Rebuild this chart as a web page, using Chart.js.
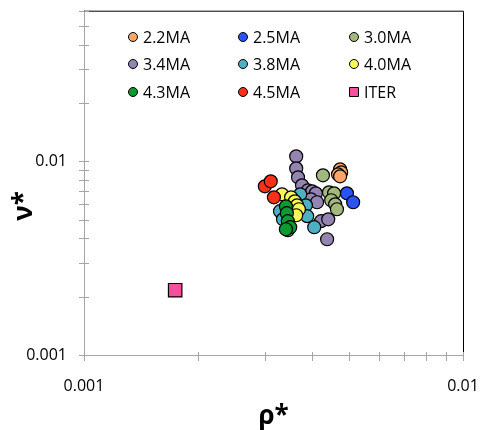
<!DOCTYPE html>
<html>
<head>
  <title>rho* vs nu*</title>
  <script src="https://cdn.jsdelivr.net/npm/chart.js"></script>
  <style>
    body { margin: 0; background: #fff; }
    canvas { display: block; }
  </style>
</head>
<body>
  <canvas id="chartRhoNu" width="486" height="430"></canvas>
  <script>
    // values (rho*, nu*)
    const seriesNames = ['2.2MA', '2.5MA', '3.0MA', '3.4MA', '3.8MA', '4.0MA', '4.3MA', '4.5MA', 'ITER'];

    const rho22 = [0.00474, 0.00477, 0.00468, 0.00474];
    const nu22  = [0.00909, 0.00877, 0.00857, 0.00837];
    const rho25 = [0.00494, 0.00513];
    const nu25  = [0.00684, 0.00615];
    const rho30 = [0.00427, 0.00443, 0.00457, 0.00449, 0.00460, 0.00465];
    const nu30  = [0.00847, 0.00692, 0.00684, 0.00630, 0.00600, 0.00566];
    const rho34 = [0.00363, 0.00363, 0.00367, 0.00376, 0.00390, 0.00400, 0.00409, 0.00397, 0.00412, 0.00422, 0.00441, 0.00438];
    const nu34  = [0.01061, 0.00920, 0.00827, 0.00752, 0.00709, 0.00700, 0.00684, 0.00637, 0.00615, 0.00491, 0.00502, 0.00396];
    const rho38 = [0.00329, 0.00335, 0.00345, 0.00372, 0.00385, 0.00388, 0.00405];
    const nu38  = [0.00553, 0.00502, 0.00441, 0.00676, 0.00593, 0.00521, 0.00457];
    const rho40 = [0.00333, 0.00352, 0.00360, 0.00365, 0.00369, 0.00363];
    const nu40  = [0.00676, 0.00652, 0.00622, 0.00593, 0.00566, 0.00527];
    const rho43 = [0.00341, 0.00343, 0.00345, 0.00350, 0.00341];
    const nu43  = [0.00586, 0.00540, 0.00491, 0.00457, 0.00446];
    const rho45 = [0.00300, 0.00311, 0.00317];
    const nu45  = [0.00743, 0.00789, 0.00652];
    const rhoIter = [0.00174];
    const nuIter  = [0.00216];

    const xTickLabels = ['0.001', '0.01'];
    const yTickLabels = ['0.001', '0.01'];

    const seriesRho = [rho22, rho25, rho30, rho34, rho38, rho40, rho43, rho45, rhoIter];
    const seriesNu  = [nu22, nu25, nu30, nu34, nu38, nu40, nu43, nu45, nuIter];
    const seriesColors = ['#f8a66c', '#2b52f5', '#a2b87c', '#9484b2', '#4fb0c4', '#f7f75a', '#0e9a30', '#f8301a', '#f4509c'];

    const FONT = '"Open Sans", "Liberation Sans", sans-serif';
    const AXIS_GRAY = '#a6a6a6';

    function tickLabel(list) {
      return function (value) {
        const s = String(value);
        return list.includes(s) ? s : '';
      };
    }

    // 1..9 ticks in every decade, like the original log axis
    function decadeTicks(scale) {
      const ticks = [];
      for (let e = Math.floor(Math.log10(scale.min)); e <= Math.ceil(Math.log10(scale.max)); e++) {
        for (let m = 1; m <= 9; m++) {
          const v = +(m * Math.pow(10, e)).toPrecision(6);
          if (v >= scale.min - 1e-12 && v <= scale.max + 1e-12) ticks.push({ value: v });
        }
      }
      scale.ticks = ticks;
    }

    // frame on top/right, tick marks crossing the axes, y title, legend grid
    const decor = {
      id: 'decor',
      afterDraw(chart) {
        const { ctx, chartArea: a, scales: { x, y } } = chart;
        ctx.save();
        ctx.lineWidth = 1;
        ctx.strokeStyle = '#000';
        ctx.beginPath();
        ctx.moveTo(a.left, a.top + 0.5);
        ctx.lineTo(a.right + 0.5, a.top + 0.5);
        ctx.lineTo(a.right + 0.5, a.bottom);
        ctx.stroke();

        ctx.strokeStyle = AXIS_GRAY;
        ctx.beginPath();
        x.ticks.forEach(t => {
          const px = Math.round(x.getPixelForValue(t.value)) + 0.5;
          ctx.moveTo(px, a.bottom - 3);
          ctx.lineTo(px, a.bottom + 6);
        });
        y.ticks.forEach(t => {
          const py = Math.round(y.getPixelForValue(t.value)) + 0.5;
          ctx.moveTo(a.left - 5, py);
          ctx.lineTo(a.left + 5, py);
        });
        ctx.stroke();

        ctx.save();
        ctx.translate(25, 206);
        ctx.rotate(-Math.PI / 2);
        ctx.font = 'bold 26px ' + FONT;
        ctx.fillStyle = '#000';
        ctx.textAlign = 'center';
        ctx.textBaseline = 'middle';
        ctx.fillText('ν*', 0, 0);
        ctx.restore();

        const colX = [133, 243, 354];
        const rowY = [37, 64, 92];
        ctx.font = '16px ' + FONT;
        ctx.textAlign = 'left';
        ctx.textBaseline = 'middle';
        chart.data.datasets.forEach((ds, i) => {
          const cx = colX[i % 3], cy = rowY[Math.floor(i / 3)];
          ctx.fillStyle = ds.backgroundColor;
          ctx.strokeStyle = '#000';
          ctx.beginPath();
          if (ds.pointStyle === 'rect') {
            ctx.rect(cx - 4.5, cy - 4.5, 9, 9);
          } else {
            ctx.arc(cx, cy, 4.5, 0, Math.PI * 2);
          }
          ctx.fill();
          ctx.stroke();
          ctx.fillStyle = '#000';
          ctx.fillText(ds.label, cx + 10, cy + 1);
        });
        ctx.restore();
      }
    };

    const datasets = seriesNames.map((name, i) => ({
      label: name,
      data: seriesRho[i].map((r, k) => ({ x: r, y: seriesNu[i][k] })),
      backgroundColor: seriesColors[i],
      borderColor: '#000',
      borderWidth: 1.2,
      pointStyle: name === 'ITER' ? 'rect' : 'circle',
      pointRadius: name === 'ITER' ? 9.5 : 6.5,
      order: seriesNames.length - i
    }));

    new Chart(document.getElementById('chartRhoNu').getContext('2d'), {
      type: 'scatter',
      data: { datasets: datasets },
      options: {
        responsive: false,
        animation: false,
        layout: { padding: { top: 6, right: 23, left: 0, bottom: 0 } },
        plugins: { legend: { display: false }, tooltip: { enabled: false } },
        scales: {
          x: {
            type: 'logarithmic',
            min: 0.001,
            max: 0.01,
            afterBuildTicks: decadeTicks,
            afterFit: s => { s.height = 75; s.paddingLeft = 0; s.paddingRight = 0; },
            grid: { display: false, drawTicks: false },
            border: { display: true, color: AXIS_GRAY },
            ticks: { autoSkip: false, maxRotation: 0, padding: 22, color: '#000', font: { family: FONT, size: 16 }, callback: tickLabel(xTickLabels) },
            title: { display: true, text: 'ρ*', color: '#000', font: { family: FONT, size: 26, weight: 'bold', lineHeight: 1 }, padding: { top: 0, bottom: 0.5 } }
          },
          y: {
            type: 'logarithmic',
            min: 0.001,
            max: 0.06,
            afterBuildTicks: decadeTicks,
            afterFit: s => { s.width = 84; s.paddingTop = 0; s.paddingBottom = 0; },
            grid: { display: false, drawTicks: false },
            border: { display: true, color: AXIS_GRAY },
            ticks: { autoSkip: false, padding: 17, color: '#000', font: { family: FONT, size: 16 }, callback: tickLabel(yTickLabels) }
          }
        }
      },
      plugins: [decor]
    });
  </script>
</body>
</html>
